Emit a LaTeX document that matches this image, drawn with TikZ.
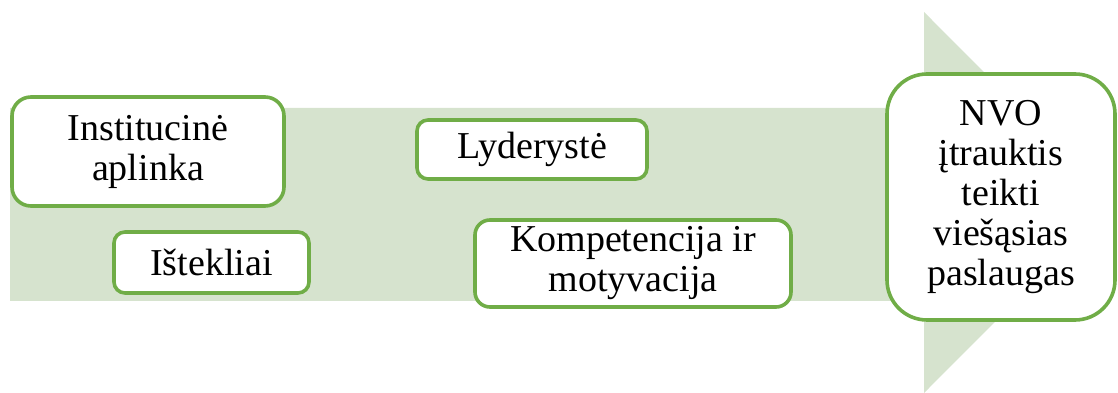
\documentclass[tikz,border=0pt]{standalone}
\usepackage{fontspec}
\setmainfont{Liberation Serif}
\definecolor{bandgreen}{RGB}{214,227,206}
\definecolor{linegreen}{RGB}{112,173,71}
\begin{document}
\begin{tikzpicture}[x=1pt,y=1pt,
  box/.style={draw=linegreen, line width=3.6pt, fill=white, align=center,
    inner sep=0pt, font=\fontsize{38}{40}\selectfont},
]
\useasboundingbox (0,0) rectangle (1118,393);
% background arrow
\fill[bandgreen] (10,285) -- (924,285) -- (924,381) -- (1114,190.5) -- (924,0) -- (924,92) -- (10,92) -- cycle;
% boxes
\node[box, rounded corners=19pt, minimum width=272pt, minimum height=109pt] (inst) at (148,241.5) {Institucinė\\aplinka};
\node[box, rounded corners=11pt, minimum width=195pt, minimum height=61pt] (ist) at (211.5,130.5) {Ištekliai};
\node[box, rounded corners=11pt, minimum width=230pt, minimum height=59pt] (lyd) at (532,243.5) {Lyderystė};
\node[box, rounded corners=15pt, minimum width=316pt, minimum height=87pt] (komp) at (633,129.5) {Kompetencija ir\\motyvacija};
\node[box, rounded corners=40pt, minimum width=228pt, minimum height=246pt] (nvo) at (1001,196) {NVO\\įtrauktis\\teikti\\viešąsias\\paslaugas};
\end{tikzpicture}
\end{document}
